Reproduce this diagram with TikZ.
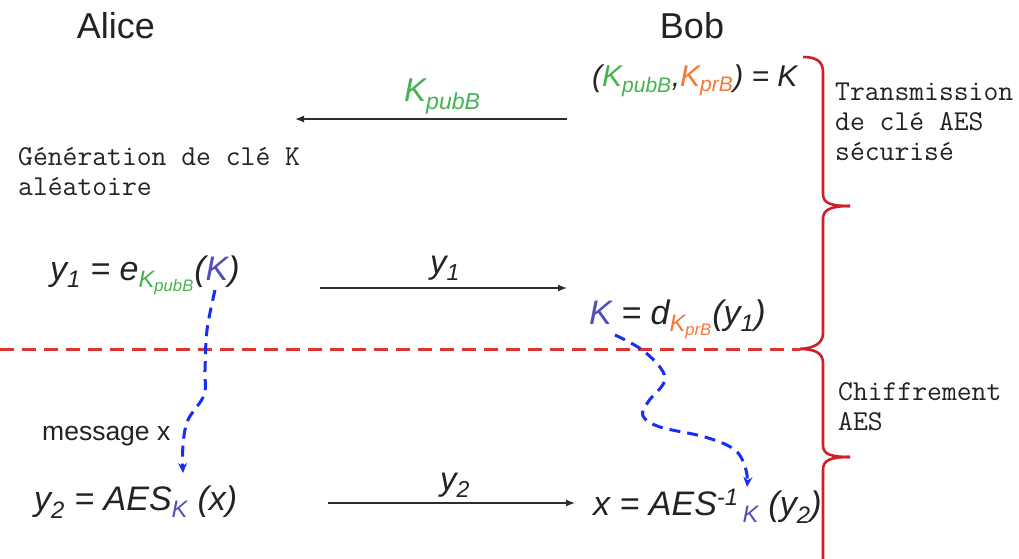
\documentclass[tikz,border=0pt]{standalone}
\usepackage{fontspec}
\setmainfont{Liberation Sans}
\usetikzlibrary{arrows.meta}
\definecolor{kgreen}{RGB}{70,178,80}
\definecolor{korange}{RGB}{245,120,55}
\definecolor{kblue}{RGB}{80,80,185}
\definecolor{textdark}{RGB}{35,35,35}
\definecolor{arrowgray}{RGB}{45,45,45}
\definecolor{bracered}{RGB}{210,30,40}
\definecolor{dashred}{RGB}{225,50,50}
\definecolor{pathblue}{RGB}{25,45,245}
\begin{document}
\begin{tikzpicture}[x=1pt,y=-1pt,
  title/.style={font=\fontsize{36}{40}\selectfont, text=textdark, inner sep=0pt},
  eq/.style={font=\fontsize{34}{38}\selectfont\itshape, text=textdark, inner sep=0pt},
  eqsmall/.style={font=\fontsize{30}{34}\selectfont\itshape, text=textdark, inner sep=0pt},
  lbl/.style={font=\fontsize{33}{38}\selectfont\itshape, text=textdark, inner sep=0pt},
  monotext/.style={font=\ttfamily\fontsize{28.8}{30}\selectfont, text=textdark, inner sep=0pt},
  msgtext/.style={font=\fontsize{26.5}{30}\selectfont, text=textdark, inner sep=0pt},
  msgarrow/.style={draw=arrowgray, line width=1.3, -{Latex[length=9,width=7]}},
  bluepath/.style={draw=pathblue, line width=3, dash pattern=on 11 off 7, line cap=butt, -{Stealth[length=10,width=9]}},
  reddash/.style={draw=dashred, line width=3, dash pattern=on 14 off 8},
  bracepath/.style={draw=bracered, line width=2.6, line join=round}
]
\useasboundingbox (0,0) rectangle (1019,558);
\clip (0,0) rectangle (1019,558);
\fill[white] (0,0) rectangle (1019,558);

% headers
\node[title, anchor=base] (alice) at (116,38) {Alice};
\node[title, anchor=base] (bob) at (692,38) {Bob};

% key pair
\node[eqsmall, anchor=base west] (keys) at (592,86) {(\textcolor{kgreen}{K\textsubscript{pubB}},\textcolor{korange}{K\textsubscript{prB}}) = K};
\node[lbl, anchor=base west] (kpub) at (404,101) {\textcolor{kgreen}{K\textsubscript{pubB}}};
\coordinate (a1s) at (567,119);
\coordinate (a1e) at (295,119);
\draw[msgarrow] (a1s) -- (a1e);

% generation text
\node[monotext, anchor=base west] (gen1) at (18,165) {Génération de clé K};
\node[monotext, anchor=base west] (gen2) at (18,195) {aléatoire};

% y1
\node[eq, anchor=base west] (eqa) at (50,280) {y\textsubscript{1} = e\textsubscript{\textcolor{kgreen}{K\textsubscript{pubB}}}(\textcolor{kblue}{K})};
\node[lbl, anchor=base] (y1l) at (445,273) {y\textsubscript{1}};
\coordinate (a2s) at (320,288);
\coordinate (a2e) at (567,288);
\draw[msgarrow] (a2s) -- (a2e);
\node[eq, anchor=base west] (eqb) at (589,324) {\textcolor{kblue}{K} = d\textsubscript{\textcolor{korange}{K\textsubscript{prB}}}(y\textsubscript{1})};

% separator
\coordinate (sepl) at (0,349);
\coordinate (sepr) at (800,349);
\draw[reddash] (sepl) -- (sepr);

% message
\node[msgtext, anchor=base west] (msg) at (42,440) {message x};

% y2
\node[eq, anchor=base west] (eqc) at (34,510) {y\textsubscript{2} = AES\textsubscript{\textcolor{kblue}{K}} (x)};
\node[lbl, anchor=base] (y2l) at (455,490) {y\textsubscript{2}};
\coordinate (a3s) at (328,503);
\coordinate (a3e) at (575,503);
\draw[msgarrow] (a3s) -- (a3e);
\node[eq, anchor=base west] (eqd) at (593,515) {x = AES\textsuperscript{-1}\textsubscript{\,\textcolor{kblue}{K}} (y\textsubscript{2})};

% blue key paths
\coordinate (k1s) at (215,290);
\coordinate (k1e) at (183,473);
\draw[bluepath] plot[smooth, tension=0.6] coordinates {(k1s) (207,330) (205,370) (204,395) (188,420) (183,445) (k1e)};
\coordinate (k2s) at (615,335);
\coordinate (k2e) at (747,487);
\draw[bluepath] plot[smooth, tension=0.6] coordinates {(k2s) (645,352) (665,378) (648,402) (643,416) (660,427) (705,437) (735,450) (746,470) (k2e)};

% braces
\draw[bracepath] (803,57) .. controls (817,57) and (823,62) .. (823,72) -- (823,194)
  .. controls (823,203) and (830,206) .. (850,206);
\draw[bracepath] (850,206) .. controls (830,206) and (823,210) .. (823,219) -- (823,333)
  .. controls (823,343) and (815,348) .. (800,349);
\draw[bracepath] (800,349) .. controls (815,349) and (823,353) .. (823,363) -- (823,445)
  .. controls (823,454) and (830,457) .. (850,457);
\draw[bracepath] (850,457) .. controls (830,457) and (823,460) .. (823,470) -- (823,565);

% brace labels
\node[monotext, anchor=base west] (tr1) at (835,100) {Transmission};
\node[monotext, anchor=base west] (tr2) at (835,130) {de clé AES};
\node[monotext, anchor=base west] (tr3) at (835,160) {sécurisé};
\node[monotext, anchor=base west] (ch1) at (838,400) {Chiffrement};
\node[monotext, anchor=base west] (ch2) at (838,430) {AES};
\end{tikzpicture}
\end{document}
